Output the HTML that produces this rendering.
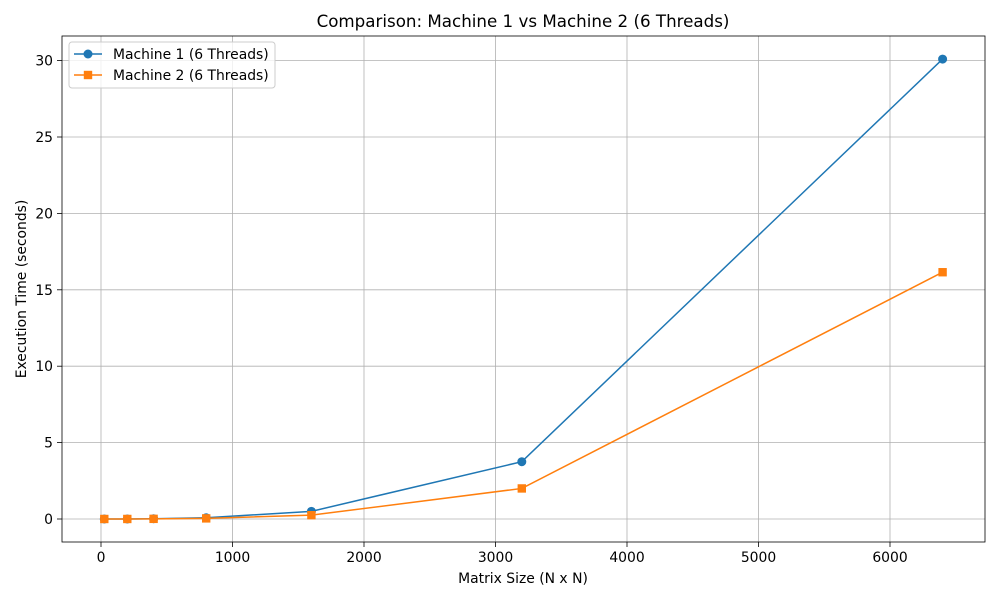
<!DOCTYPE html>
<html><head><meta charset="utf-8"><style>
body{margin:0;background:#fff;font-family:"Liberation Sans","DejaVu Sans",sans-serif}
svg text{font-family:"DejaVu Sans","Liberation Sans",sans-serif;fill:#000}
</style></head><body>
<svg id="chart" width="1000" height="600"></svg>
<script>
const sizes=[25,200,400,800,1600,3200,6400];
const machine1=[0.001,0.003,0.02,0.08,0.5,3.75,30.1];
const machine2=[0.001,0.002,0.01,0.04,0.25,2.0,16.15];
const xTicks=[0,1000,2000,3000,4000,5000,6000];
const yTicks=[0,5,10,15,20,25,30];
const L=62,R=985,T=36,B=542;
const xs=v=>101+v*0.1315;
const ys=v=>519-v*15.28;
const svg=document.getElementById('chart');
const NS='http://www.w3.org/2000/svg';
function mk(t,a,p){const e=document.createElementNS(NS,t);for(const k in a)e.setAttribute(k,a[k]);(p||svg).appendChild(e);return e;}
xTicks.forEach(t=>{const x=xs(t);
const g=mk('line',{x1:x,x2:x,y1:T,y2:B,stroke:'#b0b0b0','stroke-width':0.8});


mk('line',{x1:x,x2:x,y1:B,y2:B+5,stroke:'#000','stroke-width':0.8});
const tx=mk('text',{x:x,y:B+20,'text-anchor':'middle','font-size':13.9});tx.textContent=t;

});
yTicks.forEach(t=>{const y=ys(t);
const g=mk('line',{x1:L,x2:R,y1:y,y2:y,stroke:'#b0b0b0','stroke-width':0.8});


mk('line',{x1:L-5,x2:L,y1:y,y2:y,stroke:'#000','stroke-width':0.8});
const tx=mk('text',{x:L-9,y:y+5,'text-anchor':'end','font-size':13.9});tx.textContent=t;

});
const frame=mk('rect',{x:L,y:T,width:R-L,height:B-T,fill:'none',stroke:'#000','stroke-width':0.8});


function series(vals,color,marker,name){
const pts=sizes.map((s,i)=>xs(s)+','+ys(vals[i])).join(' ');
const pl=mk('polyline',{points:pts,fill:'none',stroke:color,'stroke-width':1.5});


sizes.forEach((s,i)=>{const x=xs(s),y=ys(vals[i]);let m;
if(marker==='o')m=mk('circle',{cx:x,cy:y,r:4.5,fill:color});
else m=mk('rect',{x:x-4.2,y:y-4.2,width:8.4,height:8.4,fill:color});

});}
series(machine1,'#1f77b4','o','machine-1');
series(machine2,'#ff7f0e','s','machine-2');
</script>
<svg width="1000" height="600" style="position:absolute;left:0;top:0">
<text x="523" y="27" text-anchor="middle" font-size="16.7">Comparison: Machine 1 vs Machine 2 (6 Threads)</text>
<text x="523" y="583" text-anchor="middle" font-size="13.9">Matrix Size (N x N)</text>
<text transform="translate(26,289) rotate(-90)" text-anchor="middle" font-size="13.9">Execution Time (seconds)</text>
<g>
<rect x="69" y="42" width="206" height="46" rx="3" fill="#fff" fill-opacity="0.8" stroke="#ccc"/>
<g>
<line x1="74" x2="102" y1="54" y2="54" stroke="#1f77b4" stroke-width="1.5"/><circle cx="88" cy="54" r="4.5" fill="#1f77b4"/>
<text x="113" y="59" font-size="13.9">Machine 1 (6 Threads)</text></g>
<g>
<line x1="74" x2="102" y1="75" y2="75" stroke="#ff7f0e" stroke-width="1.5"/><rect x="83.8" y="70.8" width="8.4" height="8.4" fill="#ff7f0e"/>
<text x="113" y="80" font-size="13.9">Machine 2 (6 Threads)</text></g>
</g>
</svg>
</body></html>
